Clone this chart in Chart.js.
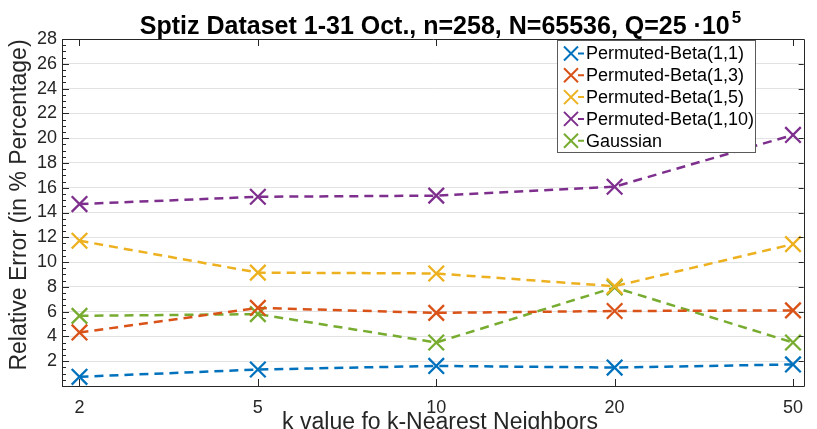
<!DOCTYPE html>
<html>
<head>
<meta charset="utf-8">
<script src="https://cdn.jsdelivr.net/npm/chart.js@4.4.1/dist/chart.umd.min.js"></script>
<style>
  html, body { margin: 0; padding: 0; background: #ffffff; }
  #wrap { width: 817px; height: 429px; }
</style>
</head>
<body>
<div id="wrap"><canvas id="c" width="817" height="429"></canvas></div>
<script>
// ---- data ----
const categories = ['2', '5', '10', '20', '50'];
const seriesNames = ['Permuted-Beta(1,1)', 'Permuted-Beta(1,3)', 'Permuted-Beta(1,5)', 'Permuted-Beta(1,10)', 'Gaussian'];
const beta11  = [0.74, 1.33, 1.62, 1.49, 1.74];
const beta13  = [4.32, 6.30, 5.90, 6.05, 6.10];
const beta15  = [11.72, 9.15, 9.08, 8.05, 11.45];
const beta110 = [14.68, 15.27, 15.36, 16.08, 20.26];
const gauss   = [5.66, 5.80, 3.51, 7.95, 3.51];
const yTicks  = [2, 4, 6, 8, 10, 12, 14, 16, 18, 20, 22, 24, 26, 28];
const seriesColors = ['#0072BD', '#D95319', '#EDB120', '#7E2F8E', '#77AC30'];

const titleMain = 'Sptiz Dataset 1-31 Oct., n=258, N=65536, Q=25';
const titleExpBase = '\u00B710';
const titleExpPow = '5';
const xTitle = 'k value fo k-Nearest Neighbors';
const yTitle = 'Relative Error (in % Percentage)';

const allSeries = [beta11, beta13, beta15, beta110, gauss];
const FONT = "'Liberation Sans', Arial, Helvetica, sans-serif";
const AX = '#262626';

const datasets = allSeries.map((vals, i) => ({
  label: seriesNames[i],
  data: vals.map((v, j) => ({ x: j, y: v })),
  borderColor: seriesColors[i],
  backgroundColor: seriesColors[i],
  borderWidth: 2.5,
  borderDash: [9, 6],
  pointStyle: 'crossRot',
  pointRadius: 11,
  pointHoverRadius: 11,
  pointBorderWidth: 2.3,
  fill: false,
  tension: 0
}));

const decorPlugin = {
  id: 'decor',
  afterDraw(chart) {
    const ctx = chart.ctx;
    const a = chart.chartArea;
    const xs = chart.scales.x, ys = chart.scales.y;
    ctx.save();
    // box
    ctx.strokeStyle = AX;
    ctx.lineWidth = 1;
    ctx.beginPath();
    ctx.rect(Math.round(a.left) + 0.5, Math.round(a.top) + 0.5, Math.round(a.right - a.left), Math.round(a.bottom - a.top));
    ctx.stroke();
    // y ticks major (left & right) and minor (left)
    ctx.beginPath();
    for (let v = 0; v <= 28.001; v += 0.5) {
      const y = Math.round(ys.getPixelForValue(v)) + 0.5;
      const major = Math.abs(v / 2 - Math.round(v / 2)) < 1e-6;
      const len = major ? 7 : 4;
      ctx.moveTo(a.left, y); ctx.lineTo(a.left + len, y);
      if (major) { ctx.moveTo(a.right, y); ctx.lineTo(a.right - 5, y); }
    }
    // x ticks top & bottom
    categories.forEach((c, i) => {
      const x = Math.round(xs.getPixelForValue(i)) + 0.5;
      ctx.moveTo(x, a.top); ctx.lineTo(x, a.top + 7);
      ctx.moveTo(x, a.bottom); ctx.lineTo(x, a.bottom - 7);
    });
    ctx.stroke();

    // title
    ctx.fillStyle = '#000';
    ctx.font = 'bold 25px ' + FONT;
    ctx.textBaseline = 'alphabetic';
    ctx.textAlign = 'left';
    const w1 = ctx.measureText(titleMain + ' ').width;
    const w2 = ctx.measureText(titleExpBase).width;
    ctx.font = 'bold 17px ' + FONT;
    const w3 = ctx.measureText(titleExpPow).width;
    const tw = w1 + w2 + w3 + 2;
    const cx = 440.5;
    let tx = cx - tw / 2;
    ctx.font = 'bold 25px ' + FONT;
    ctx.fillText(titleMain + ' ', tx, 33.5);
    ctx.fillText(titleExpBase, tx + w1, 33.5);
    ctx.font = 'bold 17px ' + FONT;
    ctx.fillText(titleExpPow, tx + w1 + w2 + 2, 23);

    // axis titles
    ctx.fillStyle = AX;
    ctx.font = '23px ' + FONT;
    ctx.textAlign = 'center';
    ctx.fillText(xTitle, 440, 428.5);
    ctx.save();
    ctx.translate(26, 205);
    ctx.rotate(-Math.PI / 2);
    ctx.fillText(yTitle, 0, 0);
    ctx.restore();

    // legend
    const lx = 557, ly = 40, lw = 198, lh = 112;
    ctx.fillStyle = '#fff';
    ctx.fillRect(lx, ly, lw, lh);
    ctx.strokeStyle = '#5a5a5a';
    ctx.lineWidth = 1;
    ctx.strokeRect(lx + 0.5, ly + 0.5, lw, lh);
    ctx.font = '18px ' + FONT;
    ctx.textAlign = 'left';
    ctx.textBaseline = 'middle';
    chart.data.datasets.forEach((ds, i) => {
      const yy = 53.5 + i * 21.8;
      ctx.strokeStyle = ds.borderColor;
      ctx.lineWidth = 2;
      ctx.setLineDash([]);
      ctx.beginPath();
      ctx.moveTo(578, yy); ctx.lineTo(584, yy);
      const r = 7;
      ctx.moveTo(571 - r, yy - r); ctx.lineTo(571 + r, yy + r);
      ctx.moveTo(571 - r, yy + r); ctx.lineTo(571 + r, yy - r);
      ctx.stroke();
      ctx.fillStyle = '#000';
      ctx.fillText(ds.label, 586, yy + 1);
    });
    ctx.restore();
  }
};

new Chart(document.getElementById('c'), {
  type: 'line',
  data: { datasets },
  options: {
    responsive: false,
    devicePixelRatio: 1,
    animation: false,
    layout: { padding: { top: 39, right: 2, left: 0, bottom: 0 } },
    plugins: { legend: { display: false }, tooltip: { enabled: false }, title: { display: false } },
    scales: {
      x: {
        type: 'linear',
        min: -0.098,
        max: 4.06,
        afterBuildTicks: (s) => { s.ticks = categories.map((c, i) => ({ value: i })); },
        afterFit: (s) => { s.height = 43; },
        grid: { display: false, drawTicks: false },
        border: { display: false },
        ticks: {
          callback: (v) => categories[v],
          color: AX,
          font: { family: FONT, size: 18 },
          padding: 11,
          maxRotation: 0,
          autoSkip: false
        }
      },
      y: {
        type: 'linear',
        min: 0,
        max: 28,
        afterBuildTicks: (s) => { s.ticks = [0].concat(yTicks).map(v => ({ value: v })); },
        afterFit: (s) => { s.width = 62; },
        grid: {
          drawTicks: false,
          color: (c) => (c.tick && (c.tick.value === 0 || c.tick.value === 28)) ? 'rgba(0,0,0,0)' : '#e2e2e2',
          lineWidth: 1
        },
        border: { display: false },
        ticks: {
          callback: (v) => (v === 0 ? '' : String(v)),
          color: AX,
          font: { family: FONT, size: 18 },
          padding: 5
        }
      }
    }
  },
  plugins: [decorPlugin]
});
</script>
</body>
</html>
